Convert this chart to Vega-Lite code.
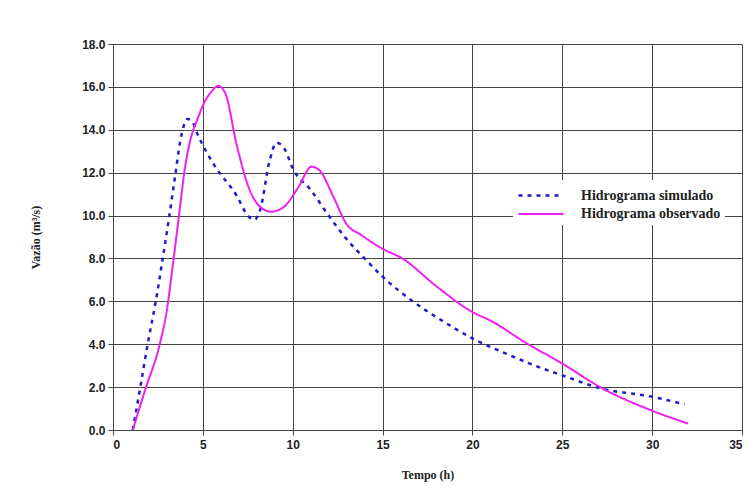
{
  "$schema": "https://vega.github.io/schema/vega-lite/v6.json",
  "width": 629,
  "height": 386,
  "autosize": {"type": "none"},
  "padding": {"left": 113, "top": 44, "right": 14, "bottom": 59},
  "background": "white",
  "config": {
    "view": {"stroke": null},
    "axis": {
      "labelFont": "Liberation Sans",
      "labelFontWeight": "bold",
      "labelFontSize": 12,
      "labelColor": "#222",
      "titleFont": "Liberation Serif",
      "titleFontWeight": "bold",
      "titleFontSize": 12,
      "titleColor": "#222",
      "gridColor": "#444",
      "gridOpacity": 1,
      "gridWidth": 1,
      "domainColor": "#444",
      "tickColor": "#444",
      "tickSize": 5
    }
  },
  "data": {
    "values": [
      {"t": 1.1, "q": 0.0, "serie": "Hidrograma simulado"},
      {"t": 1.5, "q": 1.9, "serie": "Hidrograma simulado"},
      {"t": 1.95, "q": 4.1, "serie": "Hidrograma simulado"},
      {"t": 2.4, "q": 6.1, "serie": "Hidrograma simulado"},
      {"t": 2.75, "q": 7.9, "serie": "Hidrograma simulado"},
      {"t": 3.1, "q": 9.8, "serie": "Hidrograma simulado"},
      {"t": 3.45, "q": 11.8, "serie": "Hidrograma simulado"},
      {"t": 3.75, "q": 13.5, "serie": "Hidrograma simulado"},
      {"t": 4.15, "q": 14.5, "serie": "Hidrograma simulado"},
      {"t": 4.4, "q": 14.4, "serie": "Hidrograma simulado"},
      {"t": 4.7, "q": 13.8, "serie": "Hidrograma simulado"},
      {"t": 5.6, "q": 12.4, "serie": "Hidrograma simulado"},
      {"t": 6.9, "q": 10.9, "serie": "Hidrograma simulado"},
      {"t": 7.5, "q": 10.0, "serie": "Hidrograma simulado"},
      {"t": 7.85, "q": 9.8, "serie": "Hidrograma simulado"},
      {"t": 8.2, "q": 10.3, "serie": "Hidrograma simulado"},
      {"t": 8.7, "q": 12.5, "serie": "Hidrograma simulado"},
      {"t": 9.1, "q": 13.4, "serie": "Hidrograma simulado"},
      {"t": 9.55, "q": 13.1, "serie": "Hidrograma simulado"},
      {"t": 10.0, "q": 12.2, "serie": "Hidrograma simulado"},
      {"t": 11.0, "q": 11.2, "serie": "Hidrograma simulado"},
      {"t": 12.0, "q": 10.0, "serie": "Hidrograma simulado"},
      {"t": 13.0, "q": 8.9, "serie": "Hidrograma simulado"},
      {"t": 14.0, "q": 8.0, "serie": "Hidrograma simulado"},
      {"t": 15.0, "q": 7.15, "serie": "Hidrograma simulado"},
      {"t": 16.6, "q": 6.05, "serie": "Hidrograma simulado"},
      {"t": 18.7, "q": 4.9, "serie": "Hidrograma simulado"},
      {"t": 20.0, "q": 4.27, "serie": "Hidrograma simulado"},
      {"t": 21.9, "q": 3.55, "serie": "Hidrograma simulado"},
      {"t": 23.8, "q": 2.9, "serie": "Hidrograma simulado"},
      {"t": 25.0, "q": 2.55, "serie": "Hidrograma simulado"},
      {"t": 27.1, "q": 1.95, "serie": "Hidrograma simulado"},
      {"t": 30.0, "q": 1.55, "serie": "Hidrograma simulado"},
      {"t": 31.8, "q": 1.2, "serie": "Hidrograma simulado"},
      {"t": 1.1, "q": 0.0, "serie": "Hidrograma observado"},
      {"t": 1.8, "q": 1.9, "serie": "Hidrograma observado"},
      {"t": 2.6, "q": 4.0, "serie": "Hidrograma observado"},
      {"t": 3.0, "q": 5.6, "serie": "Hidrograma observado"},
      {"t": 3.36, "q": 7.9, "serie": "Hidrograma observado"},
      {"t": 3.7, "q": 10.2, "serie": "Hidrograma observado"},
      {"t": 4.0, "q": 12.2, "serie": "Hidrograma observado"},
      {"t": 4.3, "q": 13.5, "serie": "Hidrograma observado"},
      {"t": 4.7, "q": 14.5, "serie": "Hidrograma observado"},
      {"t": 5.1, "q": 15.3, "serie": "Hidrograma observado"},
      {"t": 5.5, "q": 15.8, "serie": "Hidrograma observado"},
      {"t": 5.85, "q": 16.05, "serie": "Hidrograma observado"},
      {"t": 6.25, "q": 15.7, "serie": "Hidrograma observado"},
      {"t": 6.88, "q": 13.3, "serie": "Hidrograma observado"},
      {"t": 7.6, "q": 11.2, "serie": "Hidrograma observado"},
      {"t": 8.2, "q": 10.4, "serie": "Hidrograma observado"},
      {"t": 8.8, "q": 10.18, "serie": "Hidrograma observado"},
      {"t": 9.5, "q": 10.4, "serie": "Hidrograma observado"},
      {"t": 10.3, "q": 11.3, "serie": "Hidrograma observado"},
      {"t": 11.05, "q": 12.28, "serie": "Hidrograma observado"},
      {"t": 11.5, "q": 12.1, "serie": "Hidrograma observado"},
      {"t": 12.25, "q": 10.9, "serie": "Hidrograma observado"},
      {"t": 13.0, "q": 9.6, "serie": "Hidrograma observado"},
      {"t": 13.8, "q": 9.1, "serie": "Hidrograma observado"},
      {"t": 15.0, "q": 8.45, "serie": "Hidrograma observado"},
      {"t": 16.1, "q": 8.0, "serie": "Hidrograma observado"},
      {"t": 18.0, "q": 6.7, "serie": "Hidrograma observado"},
      {"t": 20.0, "q": 5.5, "serie": "Hidrograma observado"},
      {"t": 21.0, "q": 5.1, "serie": "Hidrograma observado"},
      {"t": 23.0, "q": 4.05, "serie": "Hidrograma observado"},
      {"t": 25.0, "q": 3.1, "serie": "Hidrograma observado"},
      {"t": 27.1, "q": 2.0, "serie": "Hidrograma observado"},
      {"t": 30.0, "q": 0.9, "serie": "Hidrograma observado"},
      {"t": 32.0, "q": 0.3, "serie": "Hidrograma observado"}
    ]
  },
  "mark": {"type": "line", "interpolate": "monotone"},
  "encoding": {
    "x": {
      "field": "t",
      "type": "quantitative",
      "scale": {"domain": [0, 35], "nice": false},
      "axis": {
        "title": "Tempo (h)",
        "values": [0, 5, 10, 15, 20, 25, 30, 35],
        "labelPadding": 4,
        "titleBaseline": "middle",
        "titleY": 44
      }
    },
    "y": {
      "field": "q",
      "type": "quantitative",
      "scale": {"domain": [0, 18], "nice": false},
      "axis": {
        "title": "Vazão (m³/s)",
        "values": [0, 2, 4, 6, 8, 10, 12, 14, 16, 18],
        "format": ".1f",
        "labelPadding": 3,
        "titleX": -71
      }
    },
    "color": {
      "field": "serie",
      "type": "nominal",
      "scale": {
        "domain": ["Hidrograma simulado", "Hidrograma observado"],
        "range": ["#1c1cc8", "#f020f0"]
      },
      "legend": {
        "title": null,
        "orient": "none",
        "legendX": 400,
        "legendY": 136,
        "fillColor": "white",
        "padding": 4,
        "symbolType": "M-1,0H3.5",
        "symbolSize": 400,
        "symbolStrokeWidth": 2.5,
        "labelFont": "Liberation Serif",
        "labelFontWeight": "bold",
        "labelFontSize": 14,
        "labelColor": "#222",
        "labelOffset": 41,
        "rowPadding": 0
      }
    },
    "strokeDash": {
      "field": "serie",
      "type": "nominal",
      "scale": {
        "domain": ["Hidrograma simulado", "Hidrograma observado"],
        "range": [[4, 5], [1, 0]]
      }
    },
    "strokeWidth": {
      "field": "serie",
      "type": "nominal",
      "scale": {
        "domain": ["Hidrograma simulado", "Hidrograma observado"],
        "range": [2.5, 2]
      },
      "legend": null
    }
  }
}
